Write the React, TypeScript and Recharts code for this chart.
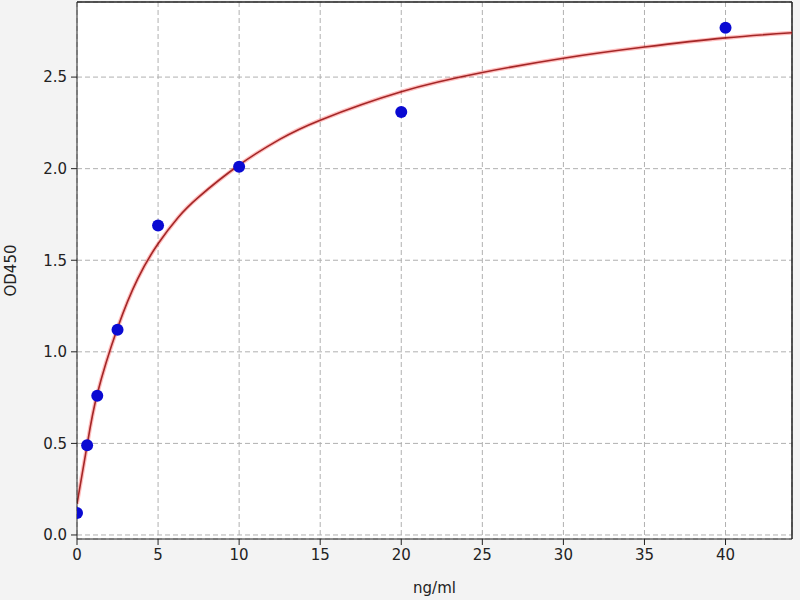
import { ComposedChart, Line, Scatter, XAxis, YAxis, CartesianGrid, ReferenceLine } from 'recharts';

// standards (ng/ml vs OD450)
const concentrations = [0, 0.625, 1.25, 2.5, 5, 10, 20, 40];
const odValues = [0.12, 0.49, 0.76, 1.12, 1.69, 2.01, 2.31, 2.77];

// fitted curve
const curveX = [0, 0.625, 1.25, 2.5, 3.75, 5, 6.25, 7.5, 10, 12.5, 15, 20, 25, 30, 35, 40, 44.1];
const curveY = [0.17, 0.49, 0.77, 1.13, 1.4, 1.59, 1.735, 1.845, 2.02, 2.16, 2.265, 2.42, 2.525, 2.603, 2.664, 2.714, 2.742];

const xTicks = [0, 5, 10, 15, 20, 25, 30, 35, 40];
const yTicks = [0, 0.5, 1, 1.5, 2, 2.5];
const xDomain = [0, 44.1];
const yDomain = [-0.022, 2.91];

const points = concentrations.map((x, i) => ({ x, y: odValues[i] }));
const curve = curveX.map((x, i) => ({ x, y: curveY[i] }));

const font = 'DejaVu Sans, sans-serif';
const tickStyle = { fontFamily: font, fontSize: 15, fill: '#222' };

export default function App() {
  return (
    <div style={{ position: 'absolute', left: 0, top: 0, width: 800, height: 600, background: '#f3f3f3' }}>
      <ComposedChart width={800} height={600} margin={{ top: 2, right: 8, left: 0, bottom: 0 }}>
        <CartesianGrid strokeDasharray="5 3" stroke="#b0b0b0" fill="#ffffff" />
        <XAxis
          dataKey="x"
          type="number"
          domain={xDomain}
          ticks={xTicks}
          allowDataOverflow
          height={61}
          tickSize={6}
          tickMargin={4}
          tick={tickStyle}
          stroke="#222"
          label={({ viewBox }: any) => (
            <text
              x={viewBox.x + viewBox.width / 2}
              y={593}
              textAnchor="middle"
              fontFamily={font}
              fontSize={15}
              fill="#222"
            >
              ng/ml
            </text>
          )}
        />
        <YAxis
          type="number"
          domain={yDomain}
          ticks={yTicks}
          allowDataOverflow
          width={77}
          tickSize={6}
          tickMargin={4}
          tick={tickStyle}
          tickFormatter={(v: number) => v.toFixed(1)}
          stroke="#222"
          label={({ viewBox }: any) => (
            <text
              x={16}
              y={viewBox.y + viewBox.height / 2}
              textAnchor="middle"
              transform={`rotate(-90, 16, ${viewBox.y + viewBox.height / 2})`}
              fontFamily={font}
              fontSize={15}
              fill="#222"
            >
              OD450
            </text>
          )}
        />
        {/* frame: top and right edges */}
        <ReferenceLine y={yDomain[1]} stroke="#222" strokeWidth={1.5} ifOverflow="extendDomain" />
        <ReferenceLine x={xDomain[1]} stroke="#222" strokeWidth={1.5} ifOverflow="extendDomain" />
        <Scatter
          data={points}
          dataKey="y"
          fill="#0a0ad2"
          shape={(p: any) => <circle cx={p.cx} cy={p.cy} r={6} fill="#0a0ad2" />}
          isAnimationActive={false}
        />
        <Line
          data={curve}
          dataKey="y"
          type="natural"
          stroke="rgba(255,70,70,0.35)"
          strokeWidth={4}
          dot={false}
          activeDot={false}
          isAnimationActive={false}
        />
        <Line
          data={curve}
          dataKey="y"
          type="natural"
          stroke="rgba(140,0,0,0.8)"
          strokeWidth={1.6}
          dot={false}
          activeDot={false}
          isAnimationActive={false}
        />
      </ComposedChart>
    </div>
  );
}
